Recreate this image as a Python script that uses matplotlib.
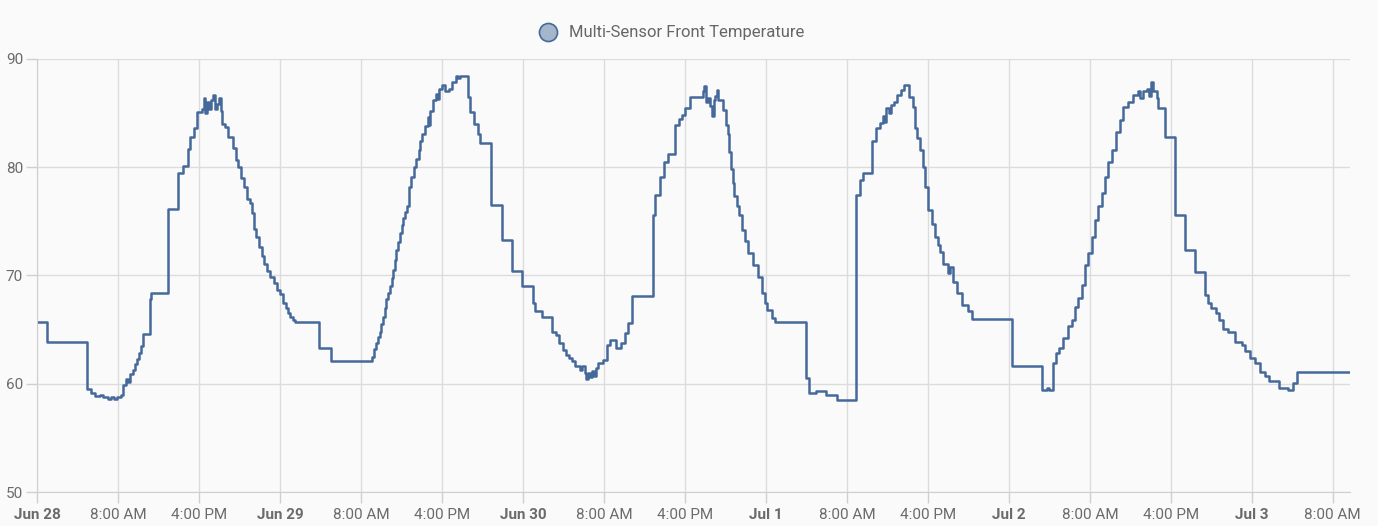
import matplotlib.pyplot as plt
from matplotlib.lines import Line2D

# =========================================================
# data: hours since Jun 28 00:00, temperature (step / post)
# =========================================================

hours_jun28 = [0, 0.96, 4.97, 5.3, 5.7, 6.2, 6.5, 7.0, 7.3, 7.6, 7.9, 8.3, 8.5,
               8.8, 9.0, 9.2, 9.5, 9.7, 9.9, 10.1, 10.3, 10.5, 11.2, 11.3, 12.9,
               13.9, 14.4, 14.9, 15.1, 15.5, 15.8, 16.3, 16.5, 16.6, 16.8, 17.0,
               17.2, 17.4, 17.6, 17.8, 18.0, 18.2, 18.3, 18.6, 18.9, 19.4, 19.7,
               19.9, 20.2, 20.4, 20.7, 21.0, 21.2, 21.4, 21.6, 21.9, 22.2, 22.4,
               22.7, 23.0, 23.4, 23.7]
temps_jun28 = [65.7, 63.9, 59.5, 59.1, 58.9, 59.0, 58.8, 58.6, 58.8, 58.6, 58.8,
               59.0, 59.9, 60.4, 60.2, 60.9, 61.3, 61.8, 62.3, 62.8, 63.5, 64.6,
               67.8, 68.4, 76.1, 79.5, 80.1, 81.7, 82.8, 83.6, 85.1, 85.4, 86.4,
               85.0, 86.0, 85.4, 86.2, 86.7, 85.4, 85.8, 86.4, 85.2, 84.0, 83.7,
               82.8, 81.8, 80.7, 80.0, 79.0, 78.2, 77.1, 76.7, 75.8, 74.3, 73.6,
               72.6, 71.8, 71.1, 70.4, 69.9, 69.3, 68.7]

hours_jun29 = [24.0, 24.3, 24.6, 24.8, 25.0, 25.3, 25.5, 27.9, 29.0, 33.05, 33.3,
               33.5, 33.7, 33.9, 34.0, 34.2, 34.35, 34.5, 34.7, 34.9, 35.05, 35.2,
               35.35, 35.5, 35.7, 35.9, 36.05, 36.2, 36.35, 36.5, 36.7, 36.95,
               37.2, 37.45, 37.7, 37.85, 38.0, 38.3, 38.6, 38.75, 38.85, 39.1,
               39.4, 39.6, 39.75, 40.0, 40.3, 40.7, 41.0, 41.4, 41.6, 41.8, 42.6,
               42.8, 43.2, 43.6, 43.75, 44.85, 45.9, 46.9]
temps_jun29 = [68.3, 67.5, 67.0, 66.5, 66.2, 65.9, 65.7, 63.3, 62.1, 62.5, 63.2,
               63.8, 64.3, 64.8, 65.5, 66.2, 67.0, 67.8, 68.4, 69.0, 69.8, 70.5,
               71.4, 72.4, 73.1, 73.9, 74.7, 75.3, 75.9, 76.4, 78.2, 79.1, 80.0,
               80.8, 81.6, 82.4, 83.1, 83.8, 84.6, 83.9, 85.2, 86.2, 86.8, 86.3,
               87.2, 87.6, 87.0, 87.2, 87.9, 88.4, 88.2, 88.4, 86.5, 85.1, 84.0,
               83.1, 82.2, 76.5, 73.3, 70.4]

hours_jun30 = [47.9, 49.0, 49.2, 49.9, 50.9, 51.3, 51.6, 52.0, 52.3, 52.6, 52.8,
               53.1, 53.6, 53.8, 54.1, 54.2, 54.4, 54.6, 54.8, 55.0, 55.2, 55.4,
               55.9, 56.3, 56.6, 57.2, 57.7, 58.1, 58.4, 58.8, 60.8, 61.0, 61.5,
               61.9, 62.35, 63.0, 63.4, 63.7, 64.0, 64.5, 65.8, 65.9, 66.1, 66.3,
               66.5, 66.7, 66.85, 67.0, 67.15, 67.3, 67.8, 68.1, 68.3, 68.4, 68.6,
               68.8, 68.9, 69.1, 69.3, 69.6, 69.9, 70.25, 70.7, 71.2, 71.6, 71.9]
temps_jun30 = [69.0, 67.5, 66.7, 66.2, 64.8, 64.5, 63.8, 63.1, 62.7, 62.4, 62.1,
               61.6, 61.3, 61.6, 61.0, 60.4, 61.0, 60.6, 61.2, 60.7, 61.5, 61.9,
               62.2, 63.6, 64.05, 63.3, 63.8, 64.7, 65.6, 68.1, 75.6, 77.4, 79.1,
               80.5, 81.2, 83.9, 84.5, 84.8, 85.5, 86.45, 87.0, 87.5, 86.0, 86.4,
               85.7, 84.7, 86.2, 86.6, 87.1, 86.2, 85.3, 83.9, 83.1, 81.4, 79.8,
               78.5, 77.3, 76.4, 75.6, 74.2, 73.2, 72.05, 71.0, 69.9, 68.4, 67.5]

hours_jul1 = [72.1, 72.6, 72.9, 75.95, 76.3, 77.0, 77.9, 79.0, 80.95, 81.3, 81.55,
              82.5, 82.9, 83.3, 83.6, 83.75, 83.9, 84.2, 84.4, 84.7, 85.0, 85.3,
              85.65, 86.15, 86.5, 86.7, 86.9, 87.2, 87.5, 87.7, 88.0, 88.4, 88.7,
              89.0, 89.2, 89.5, 90.0, 90.2, 90.5, 90.9, 91.4, 91.95, 92.4]
temps_jul1 = [66.8, 66.05, 65.7, 60.5, 59.1, 59.35, 58.95, 58.5, 77.45, 78.8,
              79.45, 82.4, 83.6, 84.1, 84.7, 84.2, 85.45, 85.0, 85.75, 86.05, 86.7,
              87.1, 87.6, 86.5, 85.6, 83.6, 82.7, 81.6, 80.05, 78.2, 76.05, 74.8,
              73.6, 72.8, 72.2, 71.1, 70.2, 70.8, 69.4, 68.4, 67.3, 66.7, 65.95]

hours_jul2 = [96.3, 99.3, 99.8, 100.0, 100.4, 100.7, 101.0, 101.35, 101.85, 102.2,
              102.5, 102.8, 103.2, 103.5, 103.8, 104.2, 104.5, 104.8, 105.2,
              105.5, 105.8, 106.2, 106.6, 107.0, 107.3, 107.8, 108.3, 108.8,
              109.0, 109.3, 109.6, 109.8, 110.0, 110.2, 110.6, 110.7, 111.4,
              112.4, 113.4, 114.4, 115.4, 115.7, 116.0, 116.5, 116.8, 117.2,
              117.6, 118.3, 119.0, 119.3, 119.8]
temps_jul2 = [61.65, 59.45, 59.6, 59.4, 61.9, 62.8, 63.3, 64.2, 65.3, 65.9, 67.1,
              67.9, 69.1, 71.0, 72.05, 73.6, 75.1, 76.4, 77.6, 79.1, 80.5, 81.6,
              83.3, 84.4, 85.6, 86.05, 86.7, 87.0, 86.4, 87.0, 87.2, 86.6, 87.9,
              87.0, 86.4, 85.45, 82.75, 75.6, 72.4, 70.3, 68.2, 67.45, 67.0, 66.5,
              65.9, 65.1, 64.8, 63.9, 63.6, 63.0, 62.4]

hours_jul3 = [120.3, 120.8, 121.3, 121.7, 122.7, 123.6, 124.05, 124.45, 129.7]
temps_jul3 = [61.9, 61.1, 60.7, 60.3, 59.6, 59.45, 60.05, 61.1, 61.1]

tick_hours = [0, 8, 16, 24, 32, 40, 48, 56, 64, 72, 80, 88, 96, 104, 112, 120, 128]
tick_labels = ["Jun 28", "8:00 AM", "4:00 PM", "Jun 29", "8:00 AM", "4:00 PM",
               "Jun 30", "8:00 AM", "4:00 PM", "Jul 1", "8:00 AM", "4:00 PM",
               "Jul 2", "8:00 AM", "4:00 PM", "Jul 3", "8:00 AM"]
y_ticks = [50, 60, 70, 80, 90]
series_name = "Multi-Sensor Front Temperature"

hours = hours_jun28 + hours_jun29 + hours_jun30 + hours_jul1 + hours_jul2 + hours_jul3
temps = temps_jun28 + temps_jun29 + temps_jun30 + temps_jul1 + temps_jul2 + temps_jul3

# =========================================================
# figure
# =========================================================

plt.rcParams['font.family'] = ['Roboto', 'DejaVu Sans']
line_col = '#45699a'
bg = '#fafafa'
grid_col = '#dcdcdc'
text_col = '#6b6b6b'

W, H = 1378, 526
fig = plt.figure(figsize=(W/100, H/100), dpi=100, facecolor=bg)
ax = fig.add_axes([37/W, 1 - 492/H, (1350-37)/W, (492-59)/H], facecolor=bg)

ax.plot(hours, temps, drawstyle='steps-post', color=line_col, lw=1.8)

ax.set_xlim(0, 129.7)
ax.set_ylim(50, 90)
ax.set_xticks(tick_hours)
ax.set_xticklabels(tick_labels)
ax.set_yticks(y_ticks)

for lbl in ax.get_xticklabels():
    if not lbl.get_text()[0].isdigit():
        lbl.set_fontweight('bold')

ax.grid(True, color=grid_col, lw=1)
ax.set_axisbelow(True)
for s in ['top', 'right']:
    ax.spines[s].set_visible(False)
for s in ['left', 'bottom']:
    ax.spines[s].set_color('#cfcfcf')
ax.tick_params(axis='both', colors='#cfcfcf', labelcolor=text_col,
               labelsize=11, length=8, width=1)
ax.tick_params(axis='y', pad=2)

handle = Line2D([], [], marker='o', linestyle='none', markersize=13,
                markerfacecolor='#a5b5ca', markeredgecolor=line_col, markeredgewidth=1.2)
fig.legend([handle], [series_name], loc='center', bbox_to_anchor=(0.5 - 21/W, 1 - 33/H),
           frameon=False, fontsize=12, labelcolor='#666666',
           handletextpad=0.3, borderaxespad=0)

fig.savefig('out.png', dpi=100, facecolor=bg)
